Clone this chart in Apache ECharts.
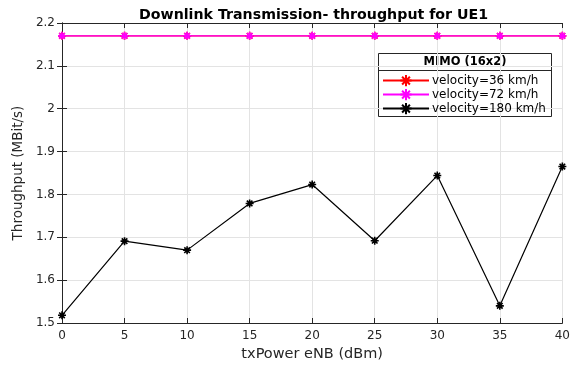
<!DOCTYPE html>
<html><head><meta charset="utf-8">
<script src="https://cdn.jsdelivr.net/npm/echarts@6/dist/echarts.min.js"></script>
<style>html,body{margin:0;padding:0;background:#fff}#c{width:573px;height:367px}</style>
</head><body><div id="c"></div>
<script>
const txPower = [0, 5, 10, 15, 20, 25, 30, 35, 40];
const v36 = [2.17, 2.17, 2.17, 2.17, 2.17, 2.17, 2.17, 2.17, 2.17];
const v72 = [2.17, 2.17, 2.17, 2.17, 2.17, 2.17, 2.17, 2.17, 2.17];
const v180 = [1.518, 1.691, 1.670, 1.779, 1.823, 1.692, 1.844, 1.540, 1.865];
const seriesNames = ['velocity=36 km/h', 'velocity=72 km/h', 'velocity=180 km/h'];
const legendTitle = 'MIMO (16x2)';

const star = 'path://M5,0L5,10M0,5L10,5M1.5,1.5L8.5,8.5M8.5,1.5L1.5,8.5';
const font = 'DejaVu Sans, sans-serif';
function pairs(ys){ return txPower.map((x,i)=>[x, ys[i]]); }
function mk(name, ys, color){
  return {
    name, type:'line', data: pairs(ys), symbol: star, symbolSize: 8,
    lineStyle:{color, width:1.2}, itemStyle:{color:'none', borderColor:color, borderWidth:1.6},
    emphasis:{disabled:true}, animation:false
  };
}
const chart = echarts.init(document.getElementById('c'));
const axisCommon = {
  axisLine:{show:true, lineStyle:{color:'#262626', width:1}},
  axisTick:{show:true, inside:true, length:5, lineStyle:{color:'#262626'}}
};
chart.setOption({
  animation:false,
  title:{text:'Downlink Transmission- throughput for UE1', left:134, top:3,
    textStyle:{fontFamily:font, fontSize:14.2, fontWeight:'bold', color:'#000'}},
  grid:{left:62, right:8, top:23, bottom:44, show:false},
  xAxis:[{
    type:'value', min:0, max:40, interval:5, position:'bottom',
    name:'txPower eNB (dBm)', nameLocation:'middle', nameGap:24,
    nameTextStyle:{fontFamily:font, fontSize:14.5, color:'#262626'},
    axisLabel:{fontFamily:font, fontSize:12, color:'#262626', margin:7},
    splitLine:{show:true, lineStyle:{color:'#e3e3e3', width:1}},
    ...axisCommon
  },{
    type:'value', min:0, max:40, interval:5, position:'top',
    axisLabel:{show:false}, splitLine:{show:false}, ...axisCommon
  }],
  yAxis:[{
    type:'value', min:1.5, max:2.2, interval:0.1, position:'left',
    name:'Throughput (MBit/s)', nameLocation:'middle', nameGap:35,
    nameTextStyle:{fontFamily:font, fontSize:13.5, color:'#262626'},
    axisLabel:{fontFamily:font, fontSize:12, color:'#262626', margin:7,
      formatter: v => (Math.round(v*10)/10).toString()},
    splitLine:{show:true, lineStyle:{color:'#e3e3e3', width:1}},
    ...axisCommon
  },{
    type:'value', min:1.5, max:2.2, interval:0.1, position:'right',
    axisLabel:{show:false}, splitLine:{show:false}, ...axisCommon
  }],
  legend:{
    data: seriesNames, orient:'vertical', left:382, top:72.5,
    itemWidth:46, itemHeight:14, itemGap:-2.2,
    textStyle:{fontFamily:font, fontSize:12, lineHeight:14, color:'#000', padding:[0,0,0,-2]},
    selectedMode:false, padding:0
  },
  graphic:[
    {type:'rect', shape:{x:378.5, y:53.5, width:173, height:63}, style:{fill:'#fff', stroke:'#262626', lineWidth:1}, z:-1},
    {type:'line', shape:{x1:378.5, y1:70.5, x2:551.5, y2:70.5}, style:{stroke:'#262626', lineWidth:1}},
    {type:'text', style:{text:legendTitle, x:465, y:62.5, textAlign:'center', textVerticalAlign:'middle', font:'bold 11.5px '+font, fill:'#000'}}
  ],
  series:[ mk(seriesNames[0], v36, '#ff0000'), mk(seriesNames[1], v72, '#ff00ff'), mk(seriesNames[2], v180, '#000000') ]
});
</script></body></html>
